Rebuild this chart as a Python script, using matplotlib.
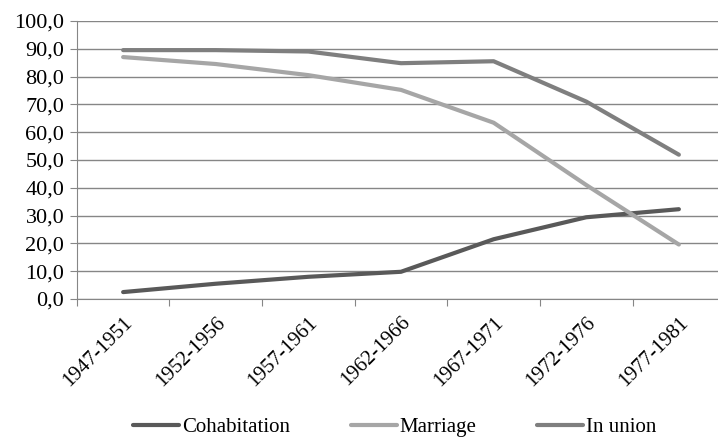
import matplotlib.pyplot as plt
from matplotlib.ticker import FuncFormatter, MultipleLocator

periodos = ['1947-1951', '1952-1956', '1957-1961', '1962-1966', '1967-1971', '1972-1976', '1977-1981']
cohabitation = [2.5, 5.5, 8.0, 9.8, 21.5, 29.4, 32.3]
marriage = [87.0, 84.5, 80.5, 75.2, 63.4, 41.0, 19.6]
in_union = [89.5, 89.5, 89.0, 84.8, 85.5, 71.0, 51.9]

plt.rcParams['font.family'] = 'serif'
plt.rcParams['font.serif'] = ['Liberation Serif', 'DejaVu Serif']

fig = plt.figure(figsize=(7.18, 4.45), dpi=100)
ax = fig.add_axes([0.107, 0.328, 0.903, 0.625])

x = range(len(periodos))
ax.plot(x, cohabitation, color='#595959', lw=3, label='Cohabitation', solid_capstyle='round')
ax.plot(x, marriage, color='#a6a6a6', lw=3, label='Marriage', solid_capstyle='round')
ax.plot(x, in_union, color='#7f7f7f', lw=3, label='In union', solid_capstyle='round')

ax.set_xlim(-0.5, len(periodos) - 0.5)
ax.set_ylim(0, 100)
ax.yaxis.set_major_locator(MultipleLocator(10))
ax.yaxis.set_major_formatter(FuncFormatter(lambda v, p: ('%.1f' % v).replace('.', ',')))
ax.grid(axis='y', color='#868686', lw=1)
ax.set_axisbelow(True)

ax.set_xticks([i - 0.5 for i in x])
ax.set_xticklabels([])
ax.set_xticks(list(x), minor=True)
ax.set_xticklabels(periodos, minor=True, rotation=45, ha='right', rotation_mode='anchor', fontsize=15)
ax.tick_params(axis='x', which='minor', length=0, pad=10)
ax.tick_params(axis='x', which='major', length=5, color='#868686')
ax.tick_params(axis='y', length=5, color='#868686', labelsize=16, pad=4)

for s in ['top', 'right']:
    ax.spines[s].set_visible(False)
ax.spines['left'].set_color('#868686')
ax.spines['bottom'].set_color('#868686')

fig.legend(loc='lower center', bbox_to_anchor=(0.55, -0.025), ncol=3, frameon=False,
           fontsize=15, handlelength=2.2, columnspacing=2.9, handletextpad=0.15)

fig.savefig('out.png', dpi=100)
